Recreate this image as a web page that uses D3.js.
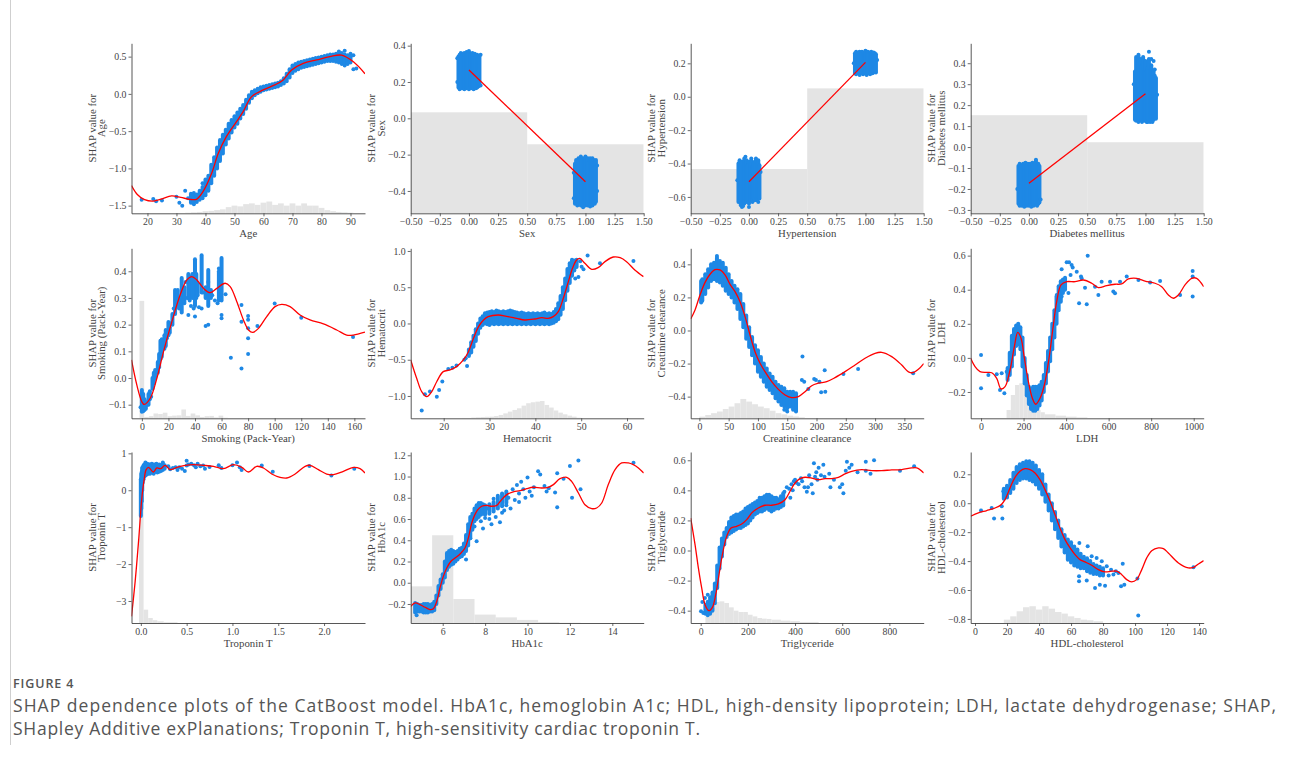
<!DOCTYPE html>
<html><head><meta charset="utf-8">
<script src="https://cdn.jsdelivr.net/npm/d3@7"></script>
<style>body{margin:0;background:#fff;}svg{display:block;}</style>
</head><body><svg id="c" width="1290" height="758"></svg>
<script>
// ---------------- DATA ----------------
// Age
const ageCurve=[[14.5,-1.23],[16.5,-1.35],[19,-1.42],[22,-1.44],[25,-1.41],[28.3,-1.37],[31.5,-1.39],[34.6,-1.415],[36.9,-1.415],[39.2,-1.31],[42.1,-1.07],[44.4,-0.80],[47.2,-0.574],[50.7,-0.372],[53,-0.238],[55.9,-0.037],[59.9,0.053],[63.9,0.12],[66.8,0.187],[69.7,0.32],[73.7,0.41],[78.3,0.455],[82.9,0.50],[86.9,0.52],[91,0.43],[95,0.27]];
const ageBands=[[35,-1.46,-1.34],[36,-1.46,-1.33],[37,-1.45,-1.35],[38,-1.42,-1.30],[39,-1.40,-1.25],[40,-1.36,-1.15],[41,-1.30,-1.10],[42,-1.20,-0.95],[43,-1.10,-0.85],[44,-1.00,-0.72],[45,-0.90,-0.62],[46,-0.80,-0.55],[47,-0.68,-0.48],[48,-0.60,-0.40],[49,-0.52,-0.35],[50,-0.45,-0.30],[51,-0.40,-0.25],[52,-0.33,-0.20],[53,-0.27,-0.15],[54,-0.20,-0.08],[55,-0.12,-0.02],[56,-0.06,0.03],[57,-0.02,0.05],[58,0.01,0.07],[59,0.03,0.09],[60,0.05,0.10],[61,0.06,0.11],[62,0.07,0.12],[63,0.08,0.13],[64,0.09,0.14],[65,0.10,0.15],[66,0.12,0.17],[67,0.14,0.21],[68,0.17,0.27],[69,0.22,0.33],[70,0.28,0.38],[71,0.31,0.40],[72,0.33,0.42],[73,0.35,0.43],[74,0.36,0.44],[75,0.37,0.45],[76,0.38,0.46],[77,0.39,0.47],[78,0.40,0.48],[79,0.41,0.49],[80,0.42,0.50],[81,0.43,0.51],[82,0.44,0.52],[83,0.44,0.53],[84,0.44,0.53],[85,0.43,0.54],[86,0.42,0.54],[87,0.40,0.55],[88,0.38,0.53],[89,0.40,0.52],[90,0.42,0.54]];
const ageDots=[[18,-1.42],[22,-1.41],[23,-1.44],[25,-1.43],[30,-1.38],[31,-1.46],[32,-1.50],[33,-1.30],[34,-1.40],[36,-1.48],[39,-1.20],[88,0.58],[91,0.33],[92,0.34],[89,0.42],[90,0.50],[86,0.57],[91,0.52]];
const ageHist=[[33,35,-1.595],[35,37,-1.59],[37,39,-1.585],[39,41,-1.575],[41,43,-1.57],[43,45,-1.56],[45,47,-1.55],[47,49,-1.52],[49,51,-1.50],[51,53,-1.51],[53,55,-1.48],[55,57,-1.47],[57,59,-1.49],[59,61,-1.46],[61,63,-1.445],[63,65,-1.49],[65,67,-1.47],[67,69,-1.50],[69,71,-1.47],[71,73,-1.50],[73,75,-1.47],[75,77,-1.50],[77,79,-1.50],[79,81,-1.53],[81,83,-1.56],[83,85,-1.575],[85,87,-1.585],[87,89,-1.59],[89,91,-1.595]];
const ageXTicks=[20,30,40,50,60,70,80,90], ageYTicks=[-1.5,-1.0,-0.5,0.0,0.5];

// Sex
const sexCurve=[[0,0.266],[1,-0.349]];
const sexBands=[[-0.09,0.17,0.34],[-0.08,0.16,0.35],[-0.07,0.175,0.36],[-0.06,0.165,0.345],[-0.05,0.17,0.355],[-0.04,0.16,0.36],[-0.03,0.175,0.35],[-0.02,0.165,0.365],[-0.01,0.17,0.355],[0.00,0.16,0.37],[0.01,0.175,0.35],[0.02,0.165,0.355],[0.03,0.17,0.36],[0.04,0.16,0.345],[0.05,0.175,0.355],[0.06,0.165,0.34],[0.07,0.17,0.35],[0.08,0.175,0.345],[0.09,0.18,0.34],
 [0.91,-0.47,-0.25],[0.92,-0.46,-0.23],[0.93,-0.48,-0.24],[0.94,-0.47,-0.22],[0.95,-0.46,-0.23],[0.96,-0.48,-0.21],[0.97,-0.47,-0.22],[0.98,-0.49,-0.23],[0.99,-0.46,-0.22],[1.00,-0.48,-0.21],[1.01,-0.47,-0.23],[1.02,-0.48,-0.22],[1.03,-0.46,-0.24],[1.04,-0.485,-0.22],[1.05,-0.47,-0.23],[1.06,-0.48,-0.22],[1.07,-0.46,-0.23],[1.08,-0.47,-0.24],[1.09,-0.46,-0.23]];
const sexDots=[[-0.1,0.33],[0.1,0.35],[-0.1,0.2],[0.1,0.18],[0.9,-0.3],[1.1,-0.4],[1.1,-0.26],[0.9,-0.44]];
const sexHist=[[-0.5,0.5,0.033],[0.5,1.5,-0.143]];
const binXTicks=[-0.5,-0.25,0,0.25,0.5,0.75,1.0,1.25,1.5];
const sexYTicks=[-0.4,-0.2,0.0,0.2,0.4];

// Hypertension
const hypCurve=[[0,-0.509],[1,0.206]];
const hypBands=[[-0.09,-0.63,-0.40],[-0.08,-0.62,-0.38],[-0.07,-0.65,-0.41],[-0.06,-0.66,-0.39],[-0.05,-0.62,-0.42],[-0.04,-0.64,-0.37],[-0.03,-0.61,-0.40],[-0.02,-0.63,-0.38],[-0.01,-0.62,-0.41],[0.00,-0.64,-0.39],[0.01,-0.62,-0.40],[0.02,-0.60,-0.38],[0.03,-0.63,-0.42],[0.04,-0.61,-0.40],[0.05,-0.62,-0.39],[0.06,-0.60,-0.37],[0.07,-0.62,-0.40],[0.08,-0.60,-0.38],[0.09,-0.61,-0.41],
 [0.91,0.14,0.26],[0.92,0.135,0.27],[0.93,0.15,0.26],[0.94,0.14,0.265],[0.95,0.13,0.27],[0.96,0.145,0.26],[0.97,0.14,0.27],[0.98,0.135,0.265],[0.99,0.15,0.26],[1.00,0.14,0.275],[1.01,0.13,0.26],[1.02,0.145,0.27],[1.03,0.14,0.265],[1.04,0.135,0.26],[1.05,0.15,0.27],[1.06,0.14,0.26],[1.07,0.145,0.265],[1.08,0.15,0.26],[1.09,0.145,0.255]];
const hypDots=[[-0.03,-0.36],[0.02,-0.37],[-0.05,-0.655],[0.0,-0.66],[0.08,-0.63],[-0.1,-0.5],[0.1,-0.45],[0.9,0.2],[1.1,0.22]];
const hypHist=[[-0.5,0.5,-0.433],[0.5,1.5,0.05]];
const hypYTicks=[-0.6,-0.4,-0.2,0.0,0.2];

// Diabetes mellitus
const diaCurve=[[0,-0.173],[1,0.254]];
const diaBands=[[-0.09,-0.27,-0.09],[-0.08,-0.28,-0.08],[-0.07,-0.265,-0.09],[-0.06,-0.28,-0.085],[-0.05,-0.27,-0.08],[-0.04,-0.285,-0.09],[-0.03,-0.27,-0.075],[-0.02,-0.28,-0.085],[-0.01,-0.275,-0.08],[0.00,-0.28,-0.09],[0.01,-0.27,-0.08],[0.02,-0.285,-0.085],[0.03,-0.27,-0.075],[0.04,-0.28,-0.09],[0.05,-0.275,-0.08],[0.06,-0.27,-0.065],[0.07,-0.28,-0.085],[0.08,-0.27,-0.08],[0.09,-0.265,-0.09],
 [0.91,0.13,0.36],[0.92,0.125,0.43],[0.93,0.14,0.37],[0.94,0.12,0.44],[0.95,0.135,0.38],[0.96,0.13,0.42],[0.97,0.12,0.39],[0.98,0.14,0.43],[0.99,0.125,0.37],[1.00,0.13,0.41],[1.01,0.12,0.36],[1.02,0.135,0.38],[1.03,0.13,0.42],[1.04,0.12,0.37],[1.05,0.135,0.39],[1.06,0.125,0.35],[1.07,0.13,0.36],[1.08,0.14,0.34],[1.09,0.135,0.33]];
const diaDots=[[0.06,-0.06],[-0.1,-0.2],[0.1,-0.25],[1.03,0.455],[1.05,0.42],[1.07,0.41],[1.08,0.37],[0.9,0.3],[1.1,0.25],[1.02,0.12],[1.06,0.12]];
const diaHist=[[-0.5,0.5,0.152],[0.5,1.5,0.023]];
const diaYTicks=[-0.3,-0.2,-0.1,0.0,0.1,0.2,0.3,0.4];

// Smoking (Pack-Year)
const smkCurve=[[-7.8,0.0675],[-3.8,-0.026],[0,-0.089],[1.8,-0.099],[6.3,-0.076],[11.3,-0.001],[16.3,0.099],[22.6,0.211],[28.8,0.311],[33.9,0.3675],[37.6,0.38],[41.4,0.3675],[46.4,0.336],[51.4,0.32],[56.4,0.336],[62.7,0.355],[66.5,0.3425],[71.5,0.286],[76.5,0.2175],[80.3,0.18],[83.5,0.171],[87.8,0.186],[94,0.23],[100.3,0.2675],[105.3,0.276],[111.6,0.2675],[119.1,0.236],[126.6,0.2175],[136.7,0.2025],[146.7,0.18],[154.2,0.161],[159.2,0.161],[168,0.172]];
const smkBands=[[0,-0.126,-0.045],[1,-0.125,-0.06],[2,-0.12,-0.08],[3,-0.115,-0.09],[5,-0.10,-0.06],[6,-0.08,-0.05],[8,-0.04,0.0],[9,-0.02,0.02],[10,0.0,0.03],[12,0.02,0.06],[13,0.04,0.09],[14,0.07,0.14],[15,0.08,0.145],[17,0.11,0.16],[18,0.12,0.18],[20,0.16,0.21],[21,0.17,0.19],[23,0.2,0.24],[25,0.24,0.33],[26,0.27,0.32],[27,0.28,0.33],[28,0.26,0.30],[30,0.245,0.375],[32,0.28,0.34],[35,0.3,0.39],[36,0.29,0.38],[38,0.30,0.39],[40,0.27,0.445],[41,0.3,0.39],[42,0.31,0.35],[45,0.32,0.46],[48,0.30,0.34],[50,0.27,0.405],[52,0.30,0.33],[58,0.29,0.40],[60,0.29,0.45]];
const smkDots=[[-1,-0.11],[4,-0.10],[7,-0.07],[11,0.025],[16,0.11],[19,0.15],[22,0.205],[24,0.26],[29,0.30],[31,0.29],[33,0.36],[34,0.30],[35,0.236],[37,0.27],[39,0.26],[40,0.23],[43,0.265],[45,0.26],[46,0.32],[48,0.195],[50,0.2],[50,0.36],[53,0.31],[55,0.29],[57,0.28],[58,0.41],[59,0.3],[60,0.236],[60,0.224],[63,0.314],[67,0.076],[75,0.274],[75,0.211],[75,0.036],[80,0.232],[80,0.218],[80,0.186],[80,0.149],[80,0.09],[87,0.195],[100,0.279],[120,0.226],[159,0.154]];
const smkHist=[[-1.75,1.75,0.289],[1.75,5.25,-0.146],[5.25,8.75,-0.143],[8.75,12.25,-0.133],[12.25,15.75,-0.135],[15.75,19.25,-0.130],[19.25,22.75,-0.143],[22.75,26.25,-0.141],[26.25,29.75,-0.140],[29.75,33.25,-0.118],[33.25,36.75,-0.142],[36.75,40.25,-0.133],[40.25,43.75,-0.140],[43.75,47.25,-0.146],[47.25,50.75,-0.143],[50.75,54.25,-0.142],[54.25,57.75,-0.148],[57.75,61.25,-0.141],[61.25,64.75,-0.149]];
const smkXTicks=[0,20,40,60,80,100,120,140,160], smkYTicks=[-0.1,0.0,0.1,0.2,0.3,0.4];

// Hematocrit
const hctCurve=[[12.8,-0.503],[14.1,-0.756],[15.2,-0.94],[16.3,-1.01],[17.4,-0.94],[18.5,-0.80],[19.9,-0.664],[21.4,-0.641],[22.8,-0.595],[24.3,-0.503],[25.4,-0.389],[26.5,-0.205],[27.6,-0.044],[28.7,0.048],[29.7,0.094],[31.9,0.117],[33.7,0.099],[35.9,0.071],[37.7,0.048],[39.9,0.062],[41.4,0.08],[42.8,0.071],[43.9,0.094],[45.0,0.163],[46.1,0.347],[47.2,0.577],[48.1,0.761],[49.0,0.876],[49.7,0.899],[50.8,0.83],[52.3,0.747],[53.7,0.770],[55.2,0.853],[57.0,0.917],[58.5,0.908],[59.9,0.853],[61.7,0.738],[63.6,0.646]];
const hctBands=[[25.5,-0.45,-0.36],[26,-0.40,-0.26],[26.5,-0.32,-0.17],[27,-0.24,-0.08],[27.5,-0.14,0.0],[28,-0.06,0.07],[28.5,-0.02,0.10],[29,0.0,0.14],[29.5,-0.01,0.15],[30,-0.02,0.16],[30.5,0.0,0.17],[31,-0.01,0.16],[31.5,0.0,0.18],[32,-0.01,0.17],[32.5,0.0,0.16],[33,-0.01,0.17],[33.5,0.0,0.16],[34,-0.01,0.17],[34.5,0.0,0.18],[35,-0.01,0.17],[35.5,0.0,0.16],[36,-0.01,0.15],[36.5,0.0,0.14],[37,-0.01,0.15],[37.5,0.0,0.14],[38,-0.01,0.13],[38.5,0.0,0.14],[39,-0.01,0.13],[39.5,0.0,0.14],[40,-0.01,0.13],[40.5,0.0,0.14],[41,-0.01,0.13],[41.5,0.0,0.14],[42,-0.01,0.15],[42.5,0.0,0.13],[43,-0.01,0.14],[43.5,0.0,0.13],[44,0.01,0.16],[44.5,0.03,0.2],[45,0.06,0.28],[45.5,0.12,0.38],[46,0.2,0.5],[46.5,0.32,0.62],[47,0.45,0.75],[47.5,0.56,0.83],[48,0.66,0.88],[48.5,0.73,0.87],[49,0.78,0.88]];
const hctDots=[[15.2,-1.20],[15.9,-0.977],[17.0,-0.94],[18.5,-1.01],[19.0,-0.917],[19.7,-0.80],[21.0,-0.628],[21.9,-0.61],[22.8,-0.58],[24.5,-0.50],[25.1,-0.586],[24.8,-0.48],[47.3,0.63],[48.7,0.62],[49.4,0.64],[50.1,0.784],[50.5,0.747],[51.4,0.936],[54.1,0.83],[61.4,0.862],[49.8,0.86]];
const hctHist=[[22,24,-1.305],[24,26,-1.303],[26,27,-1.298],[27,28,-1.294],[28,29,-1.29],[29,30,-1.287],[30,31,-1.285],[31,32,-1.276],[32,33,-1.262],[33,34,-1.24],[34,35,-1.216],[35,36,-1.193],[36,37,-1.17],[37,38,-1.133],[38,39,-1.10],[39,40,-1.087],[40,41,-1.078],[41,42,-1.069],[42,43,-1.124],[43,44,-1.16],[44,45,-1.20],[45,46,-1.23],[46,47,-1.253],[47,48,-1.271],[48,49,-1.285],[49,50,-1.30],[50,52,-1.305]];
const hctXTicks=[20,30,40,50,60], hctYTicks=[-1.0,-0.5,0.0,0.5,1.0];

// Creatinine clearance
const crCurve=[[-14.8,0.0695],[-7.4,0.124],[1.1,0.215],[9.7,0.291],[18.2,0.34],[26.8,0.368],[35.3,0.366],[43.8,0.336],[52.4,0.279],[60.9,0.235],[69.4,0.174],[78,0.084],[86.5,-0.027],[95,-0.128],[103.6,-0.198],[112.1,-0.249],[123.5,-0.309],[134.9,-0.356],[146.3,-0.39],[157.7,-0.406],[169,-0.40],[180.4,-0.37],[191.8,-0.334],[203.2,-0.319],[217.4,-0.309],[231.6,-0.285],[248.7,-0.249],[265.8,-0.209],[282.9,-0.168],[299.9,-0.138],[311.3,-0.132],[328.4,-0.158],[345.5,-0.209],[357,-0.25],[365,-0.255],[373.9,-0.235],[383,-0.20]];
const crBands=[[3,0.17,0.30],[5,0.18,0.31],[10,0.22,0.34],[15,0.26,0.37],[20,0.30,0.40],[25,0.31,0.41],[30,0.30,0.44],[35,0.29,0.42],[40,0.27,0.41],[45,0.24,0.38],[50,0.22,0.34],[55,0.20,0.30],[60,0.17,0.27],[65,0.13,0.25],[70,0.07,0.22],[75,0.02,0.16],[80,-0.05,0.09],[85,-0.10,0.02],[90,-0.15,-0.04],[95,-0.20,-0.09],[100,-0.25,-0.12],[105,-0.28,-0.16],[110,-0.31,-0.20],[115,-0.34,-0.23],[120,-0.36,-0.26],[125,-0.38,-0.28],[130,-0.41,-0.31],[135,-0.43,-0.33],[140,-0.45,-0.34],[145,-0.46,-0.35],[150,-0.47,-0.37],[155,-0.46,-0.37],[160,-0.48,-0.37],[165,-0.49,-0.38]];
const crDots=[[30,0.45],[176,-0.158],[175,-0.30],[179,-0.31],[186,-0.354],[196,-0.293],[199,-0.30],[205,-0.31],[208,-0.374],[214,-0.24],[215,-0.37],[246,-0.263],[271,-0.233],[365,-0.259],[150,-0.49],[145,-0.48],[165,-0.45]];
const crHist=[[0,10,-0.521],[10,20,-0.511],[20,30,-0.50],[30,40,-0.49],[40,50,-0.475],[50,60,-0.46],[60,70,-0.44],[70,80,-0.414],[80,90,-0.43],[90,100,-0.446],[100,110,-0.46],[110,120,-0.47],[120,130,-0.485],[130,140,-0.50],[140,150,-0.507],[150,160,-0.515],[160,170,-0.52],[170,180,-0.525]];
const crXTicks=[0,50,100,150,200,250,300,350], crYTicks=[-0.4,-0.2,0.0,0.2,0.4];

// LDH
const ldhCurve=[[-48.6,-0.002],[-28.2,-0.051],[-4.7,-0.081],[26.6,-0.085],[50.2,-0.087],[73.7,-0.12],[94,-0.182],[112.9,-0.169],[136.4,-0.071],[156.7,0.066],[172.4,0.15],[188.1,0.115],[203.8,-0.002],[222.6,-0.139],[241.4,-0.237],[257.1,-0.272],[277.4,-0.237],[297.8,-0.159],[319.7,-0.002],[340.1,0.193],[355.8,0.33],[376.2,0.428],[402.8,0.447],[442,0.447],[481.2,0.457],[520.4,0.438],[551.7,0.412],[590.9,0.424],[630.1,0.432],[661.4,0.434],[692.8,0.463],[731.9,0.467],[771.2,0.451],[818.2,0.438],[849.5,0.418],[880.9,0.369],[904.4,0.35],[927.9,0.369],[959.2,0.428],[990.6,0.467],[1014,0.467],[1047,0.418]];
const ldhBands=[[125,-0.13,-0.06],[135,-0.10,0.03],[145,-0.05,0.13],[155,0.02,0.17],[165,0.07,0.19],[175,0.08,0.20],[185,0.05,0.18],[195,-0.05,0.12],[205,-0.15,0.0],[215,-0.22,-0.10],[225,-0.27,-0.17],[235,-0.30,-0.18],[245,-0.31,-0.17],[255,-0.31,-0.17],[265,-0.30,-0.17],[275,-0.28,-0.16],[285,-0.25,-0.14],[295,-0.20,-0.10],[305,-0.15,-0.03],[315,-0.08,0.04],[325,-0.02,0.12],[335,0.05,0.20],[345,0.12,0.28],[355,0.20,0.36],[365,0.28,0.42],[375,0.33,0.45],[385,0.38,0.46],[395,0.40,0.47]];
const ldhDots=[[0,0.017],[0,-0.178],[34.5,-0.10],[73.7,-0.096],[89.3,-0.188],[97.2,-0.09],[109.7,-0.208],[120.7,-0.081],[379,0.52],[402.8,0.561],[413.8,0.561],[431,0.53],[426,0.545],[421,0.487],[450,0.506],[470,0.477],[461,0.32],[497,0.314],[501.6,0.60],[473,0.467],[489,0.412],[536,0.418],[551.7,0.369],[567,0.447],[606.6,0.447],[622,0.389],[630,0.379],[653.6,0.447],[685,0.477],[740,0.457],[795,0.443],[842,0.451],[936,0.369],[995,0.51],[995,0.477],[995,0.36],[379,0.36],[411,0.38],[356,0.369]];
const ldhHist=[[120,140,-0.306],[140,160,-0.218],[160,180,-0.159],[180,200,-0.149],[200,220,-0.155],[220,240,-0.247],[240,260,-0.286],[260,280,-0.306],[280,300,-0.319],[300,350,-0.331],[350,400,-0.339],[400,450,-0.345],[450,500,-0.349]];
const ldhXTicks=[0,200,400,600,800,1000], ldhYTicks=[-0.2,0.0,0.2,0.4,0.6];

// Troponin T
const tropCurve=[[-0.102,-3.415],[-0.062,-2.467],[-0.025,-1.384],[0.011,-0.21],[0.036,0.287],[0.058,0.558],[0.084,0.62],[0.109,0.558],[0.138,0.494],[0.175,0.603],[0.218,0.585],[0.265,0.675],[0.32,0.558],[0.393,0.62],[0.484,0.675],[0.575,0.693],[0.684,0.675],[0.793,0.648],[0.902,0.585],[1.011,0.693],[1.102,0.62],[1.175,0.494],[1.265,0.648],[1.338,0.603],[1.429,0.44],[1.52,0.35],[1.593,0.332],[1.684,0.44],[1.793,0.648],[1.847,0.675],[1.938,0.558],[2.029,0.44],[2.102,0.422],[2.211,0.512],[2.32,0.62],[2.393,0.585],[2.447,0.467]];
const tropBands=[[0,-0.7,0.3],[0.005,-0.5,0.45],[0.01,-0.3,0.5],[0.015,0.0,0.6],[0.02,0.2,0.62],[0.03,0.3,0.68],[0.04,0.38,0.7],[0.05,0.4,0.75],[0.06,0.42,0.7],[0.07,0.45,0.72],[0.08,0.45,0.68],[0.09,0.47,0.7],[0.10,0.45,0.7],[0.11,0.48,0.68],[0.12,0.5,0.72],[0.13,0.48,0.7],[0.14,0.45,0.66],[0.15,0.5,0.7],[0.16,0.5,0.68],[0.17,0.52,0.72],[0.18,0.48,0.68],[0.20,0.5,0.7],[0.22,0.52,0.68],[0.24,0.55,0.75],[0.26,0.58,0.68]];
const tropDots=[[0.3,0.65],[0.32,0.57],[0.35,0.6],[0.38,0.62],[0.4,0.55],[0.42,0.62],[0.45,0.58],[0.48,0.52],[0.5,0.8],[0.5,0.67],[0.52,0.7],[0.55,0.72],[0.58,0.68],[0.6,0.62],[0.62,0.72],[0.65,0.65],[0.68,0.67],[0.7,0.58],[0.75,0.63],[0.85,0.68],[0.88,0.6],[1.0,0.68],[1.05,0.75],[1.08,0.62],[1.1,0.55],[1.32,0.67],[1.44,0.5],[1.84,0.66],[2.08,0.4],[2.33,0.58]];
const tropHist=[[-0.02,0.03,-0.2],[0.03,0.08,-3.235],[0.08,0.13,-3.46],[0.13,0.18,-3.52],[0.18,0.25,-3.55],[0.25,0.4,-3.575]];
const tropXTicks=[0.0,0.5,1.0,1.5,2.0], tropYTicks=[-3,-2,-1,0,1];

// HbA1c
const hbaCurve=[[4.49,-0.222],[4.7,-0.19],[4.93,-0.206],[5.17,-0.231],[5.4,-0.253],[5.56,-0.244],[5.72,-0.175],[5.87,-0.049],[6.03,0.06],[6.19,0.139],[6.39,0.202],[6.58,0.233],[6.82,0.271],[7.05,0.327],[7.21,0.422],[7.37,0.563],[7.6,0.673],[7.84,0.72],[8.07,0.729],[8.31,0.72],[8.55,0.729],[8.78,0.783],[9.02,0.83],[9.33,0.855],[9.65,0.867],[9.96,0.886],[10.27,0.899],[10.67,0.892],[10.98,0.899],[11.22,0.924],[11.53,0.98],[11.85,0.993],[12.08,0.955],[12.4,0.845],[12.71,0.735],[13.03,0.698],[13.26,0.704],[13.5,0.751],[13.81,0.924],[14.13,1.065],[14.44,1.128],[14.75,1.128],[14.99,1.112],[15.23,1.081],[15.48,1.034]];
const hbaBands=[[4.7,-0.28,-0.19],[4.8,-0.27,-0.2],[4.9,-0.27,-0.21],[5.0,-0.27,-0.21],[5.1,-0.28,-0.2],[5.2,-0.28,-0.2],[5.3,-0.28,-0.2],[5.4,-0.27,-0.21],[5.5,-0.27,-0.2],[5.6,-0.26,-0.18],[5.7,-0.2,-0.12],[5.8,-0.12,-0.03],[5.9,-0.06,0.03],[6.0,0.0,0.08],[6.1,0.05,0.2],[6.2,0.12,0.28],[6.3,0.15,0.3],[6.4,0.17,0.31],[6.5,0.18,0.3],[6.6,0.2,0.29],[6.7,0.22,0.3],[6.8,0.24,0.32],[6.9,0.25,0.33],[7.0,0.27,0.37],[7.1,0.3,0.45],[7.2,0.35,0.55],[7.3,0.42,0.62],[7.4,0.5,0.65],[7.5,0.58,0.7],[7.6,0.6,0.73],[7.7,0.62,0.75],[7.8,0.64,0.75],[7.9,0.65,0.74],[8.0,0.64,0.73],[8.2,0.65,0.74],[8.4,0.67,0.76],[8.6,0.7,0.82],[8.8,0.72,0.84],[9.0,0.75,0.86]];
const hbaDots=[[4.77,-0.307],[7.1,0.22],[7.3,0.42],[7.5,0.53],[7.6,0.39],[7.9,0.51],[8.0,0.61],[8.2,0.6],[8.5,0.62],[8.7,0.57],[8.9,0.68],[9.1,0.8],[9.2,0.7],[9.3,0.88],[9.4,0.78],[9.5,0.92],[9.6,0.84],[9.7,0.95],[9.8,0.88],[9.9,0.8],[10.0,0.99],[10.1,0.86],[10.2,0.82],[10.3,0.9],[10.5,1.05],[10.6,1.02],[10.8,0.91],[10.9,0.86],[11.0,0.89],[11.3,0.85],[11.4,1.03],[11.4,0.71],[11.7,0.98],[12.0,1.1],[12.1,0.8],[12.4,1.15],[12.5,0.88],[15.0,1.13],[8.3,0.55],[8.8,0.66],[9.0,0.73],[9.6,0.76],[7.8,0.58],[8.4,0.79],[8.1,0.7]];
const hbaHist=[[4.5,5.5,-0.034],[5.5,6.5,0.447],[6.5,7.5,-0.153],[7.5,8.5,-0.30],[8.5,9.5,-0.326],[9.5,10.5,-0.35],[10.5,11.5,-0.37],[11.5,12.5,-0.376]];
const hbaXTicks=[6,8,10,12,14], hbaYTicks=[-0.2,0.0,0.2,0.4,0.6,0.8,1.0,1.2];

// Triglyceride
const tgCurve=[[-42.4,0.216],[-24,0.039],[-9.9,-0.116],[4.2,-0.249],[18.4,-0.36],[35.3,-0.40],[49.5,-0.378],[63.6,-0.294],[77.7,-0.16],[91.9,-0.027],[110.2,0.094],[128.6,0.15],[152.7,0.161],[173.9,0.176],[195,0.205],[216.6,0.25],[244.5,0.283],[272.8,0.301],[301,0.301],[329.3,0.31],[357.6,0.338],[378.8,0.394],[400,0.449],[421.2,0.478],[442.4,0.487],[470.7,0.482],[498.9,0.471],[527.2,0.478],[555.5,0.478],[583.7,0.487],[612,0.509],[640.3,0.527],[682.7,0.538],[725.1,0.531],[767.5,0.531],[809.9,0.536],[852.3,0.538],[894.7,0.549],[915.9,0.549],[945.6,0.516]];
const tgBands=[[20,-0.42,-0.36],[30,-0.43,-0.34],[40,-0.42,-0.31],[50,-0.40,-0.28],[60,-0.35,-0.22],[70,-0.25,-0.10],[80,-0.12,0.02],[90,-0.04,0.08],[100,0.04,0.12],[110,0.09,0.15],[120,0.11,0.19],[130,0.12,0.22],[140,0.13,0.23],[150,0.14,0.24],[160,0.15,0.24],[170,0.15,0.25],[180,0.16,0.26],[190,0.17,0.28],[200,0.18,0.29],[210,0.20,0.30],[220,0.22,0.31],[230,0.24,0.32],[240,0.25,0.33],[250,0.26,0.35],[260,0.26,0.35],[270,0.27,0.36],[280,0.28,0.37],[290,0.27,0.37],[300,0.26,0.36],[310,0.27,0.35],[320,0.28,0.35],[330,0.28,0.34],[340,0.29,0.36],[350,0.30,0.38]];
const tgDots=[[1.4,-0.404],[11,-0.415],[22.6,-0.393],[7,-0.342],[18,-0.316],[30,-0.294],[355,0.39],[365,0.42],[375,0.41],[380,0.35],[385,0.44],[390,0.40],[395,0.46],[400,0.47],[405,0.45],[415,0.44],[425,0.48],[430,0.46],[440,0.42],[450,0.39],[455,0.42],[460,0.50],[470,0.44],[475,0.38],[480,0.58],[485,0.49],[490,0.52],[495,0.47],[500,0.55],[510,0.50],[520,0.57],[525,0.49],[545,0.51],[550,0.42],[565,0.47],[590,0.42],[600,0.44],[605,0.38],[615,0.53],[620,0.59],[630,0.55],[640,0.57],[665,0.52],[700,0.59],[700,0.53],[735,0.60],[720,0.51],[845,0.53],[905,0.56]];
const tgHist=[[20,40,-0.438],[40,60,-0.382],[60,80,-0.342],[80,100,-0.338],[100,120,-0.349],[120,140,-0.378],[140,160,-0.40],[160,180,-0.409],[180,200,-0.409],[200,220,-0.427],[220,240,-0.438],[240,260,-0.449],[260,280,-0.453],[280,300,-0.455],[300,340,-0.46],[340,380,-0.466],[380,420,-0.47],[420,500,-0.475]];
const tgXTicks=[0,200,400,600,800], tgYTicks=[-0.4,-0.2,0.0,0.2,0.4,0.6];

// HDL-cholesterol
const hdlCurve=[[-2.7,-0.09],[2.1,-0.067],[7.3,-0.051],[12.5,-0.033],[16.3,-0.01],[18.75,0.025],[21.9,0.106],[25,0.179],[28.1,0.221],[31.25,0.239],[34.4,0.232],[37.5,0.209],[40.6,0.163],[43.75,0.094],[46.9,0.013],[50,-0.079],[53.1,-0.171],[56.25,-0.252],[59.4,-0.309],[62.5,-0.355],[65.6,-0.39],[68.75,-0.406],[72.9,-0.429],[77.1,-0.459],[81.25,-0.475],[85.4,-0.47],[88.5,-0.47],[91.7,-0.494],[94.8,-0.528],[97.9,-0.544],[101,-0.528],[104.2,-0.459],[107.3,-0.378],[110.4,-0.328],[114.6,-0.309],[117.7,-0.314],[120.8,-0.344],[127.1,-0.413],[133.3,-0.447],[136.5,-0.443],[139.6,-0.42],[142.9,-0.397]];
const hdlBands=[[18,0.03,0.10],[20,0.04,0.12],[22,0.07,0.16],[24,0.10,0.21],[26,0.14,0.25],[28,0.16,0.27],[30,0.17,0.28],[32,0.17,0.29],[34,0.16,0.29],[36,0.15,0.28],[38,0.13,0.26],[40,0.10,0.23],[42,0.06,0.20],[44,0.01,0.13],[46,-0.05,0.06],[48,-0.12,0.0],[50,-0.18,-0.06],[52,-0.24,-0.12],[54,-0.30,-0.18],[56,-0.34,-0.22],[58,-0.39,-0.25],[60,-0.41,-0.27],[62,-0.43,-0.30],[64,-0.44,-0.32],[66,-0.45,-0.35],[68,-0.45,-0.37],[70,-0.47,-0.38],[72,-0.48,-0.40],[74,-0.49,-0.42],[76,-0.49,-0.43],[78,-0.50,-0.44],[80,-0.50,-0.45]];
const hdlDots=[[3.75,-0.051],[10.4,-0.033],[11.9,-0.106],[17.1,-0.106],[16.7,-0.021],[17.7,0.082],[102,-0.777],[101.5,-0.521],[136.5,-0.443],[65.2,-0.275],[70.4,-0.298],[65,-0.505],[65,-0.54],[69.8,-0.535],[75,-0.586],[78,-0.563],[81.25,-0.57],[82.3,-0.436],[83.5,-0.50],[86.5,-0.493],[89.6,-0.482],[91.25,-0.574],[92.3,-0.418],[93.3,-0.563],[72.9,-0.367],[76,-0.378],[79.2,-0.401],[85,-0.46],[88,-0.47]];
const hdlHist=[[18,22,-0.805],[22,26,-0.782],[26,30,-0.747],[30,34,-0.719],[34,38,-0.712],[38,42,-0.735],[42,46,-0.712],[46,50,-0.729],[50,54,-0.752],[54,58,-0.763],[58,62,-0.782],[62,66,-0.793],[66,70,-0.805],[70,74,-0.809],[74,80,-0.816]];
const hdlXTicks=[0,20,40,60,80,100,120,140], hdlYTicks=[-0.8,-0.6,-0.4,-0.2,0.0,0.2];

const captionTitle="FIGURE 4";
const captionLines=["SHAP dependence plots of the CatBoost model. HbA1c, hemoglobin A1c; HDL, high-density lipoprotein; LDH, lactate dehydrogenase; SHAP,","SHapley Additive exPlanations; Troponin T, high-sensitivity cardiac troponin T."];

// ---------------- LAYOUT ----------------
const cols=[{x0:131.5,x1:365},{x0:410.7,x1:643.7},{x0:690.7,x1:923.7},{x0:970.7,x1:1203.7}];
const rows=[{y0:43.3,y1:213.3},{y0:248.3,y1:418.3},{y0:452,y1:623}];
const panels=[
 {row:0,col:0,name:"Age",xd:[14.5,95],yd:[-1.603,0.679],curve:ageCurve,bands:ageBands,dots:ageDots,hist:ageHist,xt:ageXTicks,yt:ageYTicks,xf:"d",yf:".1f"},
 {row:0,col:1,name:"Sex",xd:[-0.5,1.5],yd:[-0.523,0.413],curve:sexCurve,bands:sexBands,dots:sexDots,hist:sexHist,xt:binXTicks,yt:sexYTicks,xf:".2f",yf:".1f"},
 {row:0,col:2,name:"Hypertension",xd:[-0.5,1.5],yd:[-0.698,0.32],curve:hypCurve,bands:hypBands,dots:hypDots,hist:hypHist,xt:binXTicks,yt:hypYTicks,xf:".2f",yf:".1f"},
 {row:0,col:3,name:"Diabetes mellitus",xd:[-0.5,1.5],yd:[-0.316,0.495],curve:diaCurve,bands:diaBands,dots:diaDots,hist:diaHist,xt:binXTicks,yt:diaYTicks,xf:".2f",yf:".1f"},
 {row:1,col:0,name:"Smoking (Pack-Year)",xd:[-7.8,168],yd:[-0.151,0.486],curve:smkCurve,bands:smkBands,dots:smkDots,hist:smkHist,xt:smkXTicks,yt:smkYTicks,xf:"d",yf:".1f"},
 {row:1,col:1,name:"Hematocrit",xd:[12.8,63.64],yd:[-1.308,1.037],curve:hctCurve,bands:hctBands,dots:hctDots,hist:hctHist,xt:hctXTicks,yt:hctYTicks,xf:"d",yf:".1f"},
 {row:1,col:2,name:"Creatinine clearance",xd:[-14.8,383],yd:[-0.531,0.497],curve:crCurve,bands:crBands,dots:crDots,hist:crHist,xt:crXTicks,yt:crYTicks,xf:"d",yf:".1f"},
 {row:1,col:3,name:"LDH",xd:[-48.6,1047],yd:[-0.3545,0.643],curve:ldhCurve,bands:ldhBands,dots:ldhDots,hist:ldhHist,xt:ldhXTicks,yt:ldhYTicks,xf:"d",yf:".1f"},
 {row:2,col:0,name:"Troponin T",xd:[-0.102,2.447],yd:[-3.596,1.036],curve:tropCurve,bands:tropBands,dots:tropDots,hist:tropHist,xt:tropXTicks,yt:tropYTicks,xf:".1f",yf:"d"},
 {row:2,col:1,name:"HbA1c",xd:[4.49,15.48],yd:[-0.379,1.231],curve:hbaCurve,bands:hbaBands,dots:hbaDots,hist:hbaHist,xt:hbaXTicks,yt:hbaYTicks,xf:"d",yf:".1f"},
 {row:2,col:2,name:"Triglyceride",xd:[-42.4,945.5],yd:[-0.482,0.655],curve:tgCurve,bands:tgBands,dots:tgDots,hist:tgHist,xt:tgXTicks,yt:tgYTicks,xf:"d",yf:".1f"},
 {row:2,col:3,name:"HDL-cholesterol",xd:[-2.7,142.9],yd:[-0.828,0.354],curve:hdlCurve,bands:hdlBands,dots:hdlDots,hist:hdlHist,xt:hdlXTicks,yt:hdlYTicks,xf:"d",yf:".1f"}
];

const BLUE="#1e88e5", RED="#ff0000", HIST="#e4e4e4";
const FONT="'Liberation Serif','Times New Roman',serif";
const svg=d3.select("#c");
svg.append("rect").attr("width",1290).attr("height",758).attr("fill","#fff");

panels.forEach((p,i)=>{
  const c=cols[p.col], r=rows[p.row];
  const x=d3.scaleLinear().domain(p.xd).range([c.x0,c.x1]);
  const y=d3.scaleLinear().domain(p.yd).range([r.y1,r.y0]);
  const g=svg.append("g");
  const cid="clip"+i;
  g.append("clipPath").attr("id",cid).append("rect").attr("x",c.x0).attr("y",r.y0-4).attr("width",c.x1-c.x0).attr("height",r.y1-r.y0+4);
  const pg=g.append("g").attr("clip-path",`url(#${cid})`);
  pg.selectAll("rect.h").data(p.hist).join("rect").attr("class","h")
    .attr("x",d=>x(d[0])).attr("width",d=>x(d[1])-x(d[0]))
    .attr("y",d=>y(d[2])).attr("height",d=>y(p.yd[0])-y(d[2])).attr("fill",HIST);
  pg.selectAll("line.b").data(p.bands).join("line").attr("class","b")
    .attr("x1",d=>x(d[0])).attr("x2",d=>x(d[0])).attr("y1",d=>y(d[1])).attr("y2",d=>y(d[2]))
    .attr("stroke",BLUE).attr("stroke-width",4).attr("stroke-linecap","round");
  pg.selectAll("circle").data(p.dots).join("circle")
    .attr("cx",d=>x(d[0])).attr("cy",d=>y(d[1])).attr("r",2).attr("fill",BLUE);
  const line=d3.line().x(d=>x(d[0])).y(d=>y(d[1])).curve(p.curve.length>2?d3.curveCatmullRom.alpha(0.5):d3.curveLinear);
  pg.append("path").datum(p.curve).attr("d",line).attr("fill","none").attr("stroke",RED).attr("stroke-width",1.3);

  const xa=g.append("g").attr("transform",`translate(0,${r.y1})`)
    .call(d3.axisBottom(x).tickValues(p.xt).tickFormat(d3.format(p.xf)).tickSize(3).tickSizeOuter(0).tickPadding(2));
  const ya=g.append("g").attr("transform",`translate(${c.x0},0)`)
    .call(d3.axisLeft(y).tickValues(p.yt).tickFormat(d3.format(p.yf)).tickSize(3).tickSizeOuter(0).tickPadding(2));
  [xa,ya].forEach(a=>{
    a.selectAll("path.domain").attr("stroke","#444").attr("stroke-width",0.9);
    a.selectAll(".tick line").attr("stroke","#444").attr("stroke-width",0.8);
    a.selectAll(".tick text").attr("font-family",FONT).attr("font-size",9.8).attr("fill","#444");
  });
  g.append("text").attr("x",(c.x0+c.x1)/2).attr("y",r.y1+24).attr("text-anchor","middle")
    .attr("font-family",FONT).attr("font-size",10.8).attr("fill","#444").text(p.name);
  const ym=(r.y0+r.y1)/2;
  const yl=g.append("text").attr("transform",`translate(${c.x0-39.5},${ym}) rotate(-90)`)
    .attr("text-anchor","middle").attr("font-family",FONT).attr("font-size",10.8).attr("fill","#444");
  yl.append("tspan").attr("x",0).attr("y",0).attr("dy","0.35em").text("SHAP value for");
  yl.append("tspan").attr("x",0).attr("dy","9.6").text(p.name);
});

// caption
svg.append("line").attr("x1",10.5).attr("x2",10.5).attr("y1",0).attr("y2",745).attr("stroke","#cfcfcf").attr("stroke-width",1);
svg.append("text").attr("x",13).attr("y",688).attr("font-family","'Open Sans',sans-serif").attr("font-size",12.5).attr("font-weight",600)
  .attr("letter-spacing",0.9).attr("fill","#555").text(captionTitle);
const capWidths=[1263,687];
captionLines.forEach((t,i)=>{
  svg.append("text").attr("x",13).attr("y",712+i*23).attr("font-family","'Open Sans',sans-serif").attr("font-size",17.5)
    .attr("textLength",capWidths[i]).attr("lengthAdjust","spacing")
    .attr("fill","#555").text(t);
});
</script></body></html>
